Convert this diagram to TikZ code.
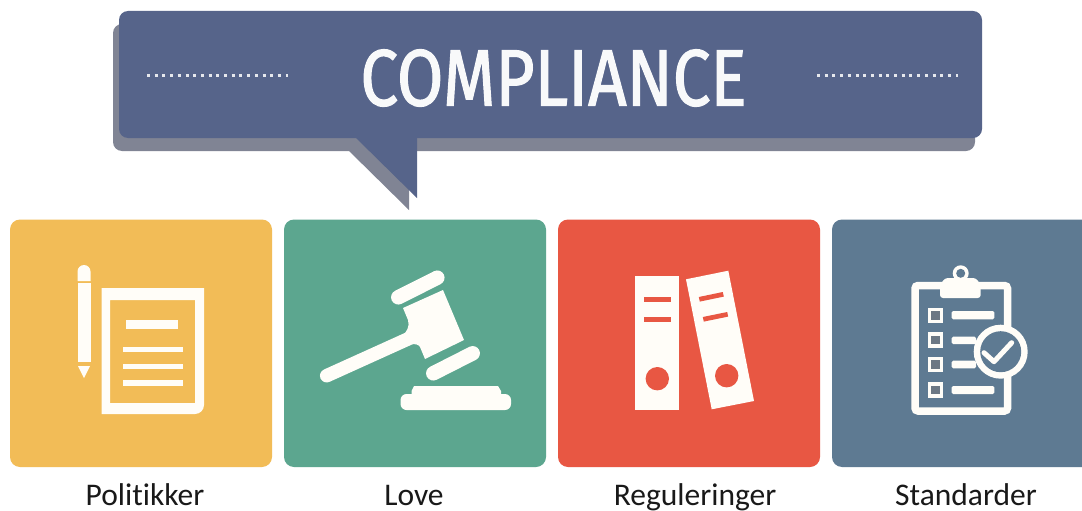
\documentclass[tikz,border=0pt]{standalone}
\usepackage{fontspec}
\setmainfont[Ligatures=NoCommon]{Carlito}
\newfontfamily\titlefont[FakeBold=1.6]{Fira Sans}
\definecolor{bubble}{HTML}{56648A}
\definecolor{bubbleshadow}{HTML}{808494}
\definecolor{cyellow}{HTML}{F2BC57}
\definecolor{cgreen}{HTML}{5CA68F}
\definecolor{cred}{HTML}{E85743}
\definecolor{cblue}{HTML}{5E7A92}
\definecolor{boxfill}{HTML}{6C7884}
\definecolor{icon}{HTML}{FFFDF8}
\tikzset{
  card/.style={rounded corners=10pt},
  caption/.style={font=\fontsize{31.5}{34}\selectfont,text=black!90,inner sep=0pt,anchor=base},
  dotline/.style={draw=white!85!bubble,line width=3pt,dash pattern=on 3pt off 4.7pt},
  tickbox/.style={draw=icon,fill=boxfill,line width=3.6pt},
}
\begin{document}
\begin{tikzpicture}[x=1pt,y=-1pt]
\useasboundingbox (0,0) rectangle (1082,511);
\fill[white] (0,0) rectangle (1082,511);
% bubble shadow
\fill[bubbleshadow,rounded corners=9pt] (113,24) rectangle (975,151);
\fill[bubbleshadow] (347,149) -- (409,210) -- (409,149) -- cycle;
% bubble
\fill[bubble,rounded corners=9pt] (119,11) rectangle (982,138);
\fill[bubble] (354,136) -- (417,198) -- (417,136) -- cycle;
\draw[dotline] (147,76) -- (288,76);
\draw[dotline] (817,76) -- (958,76);
\node[inner sep=0pt,text=white!96!bubble] (title) at (553.5,78) {\resizebox{386pt}{56pt}{\titlefont COMPLIANCE}};
% cards
\fill[cyellow,card] (10,219.5) rectangle (272,467);
\fill[cgreen,card] (284,219.5) rectangle (546,467);
\fill[cred,card] (558,219.5) rectangle (820,467);
\fill[cblue,card] (832,219.5) rectangle (1092,467);
% pencil and document
\fill[icon] (77.5,281) -- (77.5,271.5) arc[start angle=180,end angle=0,radius=6.5pt] -- (90.5,281) -- cycle;
\fill[icon] (77.5,282.5) rectangle (90.5,362);
\fill[icon] (78,366) -- (90,366) -- (84,378) -- cycle;
\fill[icon,even odd rule] (101.5,288) -- (204,288) -- (204,404) [rounded corners=9pt] -- (204,414) [sharp corners] -- (101.5,414) -- cycle
  (110,300) rectangle (195,403);
\fill[icon] (126,320) rectangle (178,329);
\fill[icon] (123,346.5) rectangle (183,352);
\fill[icon] (123,363.5) rectangle (183,369);
\fill[icon] (123,380) rectangle (183,386);
% gavel
\draw[icon,line width=14.5pt,line cap=round] (398.3,297.3) -- (437.3,277.7);
\draw[icon,line width=14.5pt,line cap=round] (433.3,373.3) -- (472.7,353.3);
\fill[icon] (403,308) -- (443,290) -- (464,340) -- (425,359) -- (420,347) .. controls (418,344) and (415,344) .. (412,344) -- (402,336) .. controls (407,332) and (410,326) .. (408,320) -- cycle;
\draw[icon,line width=13.5pt,line cap=round] (326.7,375.7) -- (414,336.2);
\fill[icon] (411.5,396) -- (411.5,391) -- (414,386) -- (498,386) -- (501,391) -- (501,396) -- cycle;
\fill[icon,rounded corners=6pt] (400.5,394) rectangle (511,410);
% binders
\fill[icon] (635.3,276) rectangle (679,410);
\fill[cred] (644.3,297) rectangle (670.7,301.7);
\fill[cred] (644.3,317) rectangle (670.7,321.7);
\fill[cred] (657.3,378.7) circle[radius=11.7pt];
\fill[icon] (686,279.3) -- (728.3,270.7) -- (754,401) -- (711.7,409.3) -- cycle;
\draw[cred,line width=4.7pt] (699.3,299.3) -- (723.3,294.3);
\draw[cred,line width=4.7pt] (703.3,319.3) -- (727.7,314.3);
\fill[cred] (726.7,375.7) circle[radius=11.7pt];
% clipboard
\draw[icon,line width=7.5pt,rounded corners=3pt] (915,285.5) rectangle (1007.5,411);
\fill[icon] (960.7,273.3) circle[radius=8pt];
\fill[cblue] (960.7,273.3) circle[radius=4.5pt];
\fill[icon,rounded corners=3pt] (945,278) -- (976,278) -- (980.7,285) -- (980.7,298) -- (940,298) -- (940,285) -- cycle;
\draw[tickbox] (929.5,309.5) rectangle (941.5,321.5);
\draw[tickbox] (929.5,334) rectangle (941.5,346);
\draw[tickbox] (929.5,358.3) rectangle (941.5,370.3);
\draw[tickbox] (929.5,384) rectangle (941.5,396);
\fill[icon,rounded corners=1.5pt] (951.7,311) rectangle (994.3,319.3);
\fill[icon,rounded corners=1.5pt] (951.7,336.7) rectangle (976,344);
\fill[icon,rounded corners=1.5pt] (951.7,360.7) rectangle (976,368.3);
\fill[icon,rounded corners=1.5pt] (951.7,386) rectangle (994.3,394);
\fill[icon] (1000.7,351.7) circle[radius=27pt];
\fill[cblue] (1000.7,351.7) circle[radius=20.5pt];
\draw[icon,line width=5pt,line cap=round,line join=round] (984,352.7) -- (994,361.7) -- (1011.7,342.7);
% captions
\node[caption] (politikker) at (145,505) {Politikker};
\node[caption] (love) at (414,505) {Love};
\node[caption] (reguleringer) at (695,505) {Reguleringer};
\node[caption] (standarder) at (966,505) {Standarder};
\end{tikzpicture}
\end{document}
